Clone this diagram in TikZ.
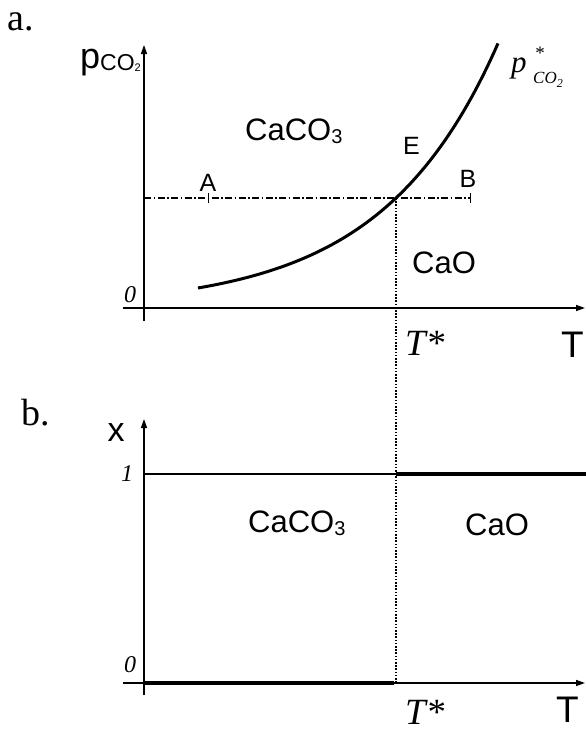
\documentclass[tikz,border=0pt]{standalone}
\usepackage{fontspec}
\setmainfont{Liberation Serif}
\newfontfamily\arialf{Liberation Sans}
\newfontfamily\tnrf{Liberation Serif}
\usetikzlibrary{arrows.meta}
\newcommand{\fs}[1]{\fontsize{#1}{#1}\selectfont}
\begin{document}
\begin{tikzpicture}[x=1pt,y=-1pt,
  axis/.style={line width=1.4pt,-{Triangle[length=9pt,width=6pt]}},
  curve/.style={line width=3pt},
  thickline/.style={line width=3.4pt},
  thinline/.style={line width=1.4pt},
  dashdot/.style={line width=1.3pt,dash pattern=on 7pt off 2.5pt on 1.5pt off 2.5pt},
  dotline/.style={line width=1.6pt,dash pattern=on 1.6pt off 1.6pt},
  big/.style={font=\arialf\fs{31},inner sep=0pt},
  mid/.style={font=\arialf\fs{25},inner sep=0pt},
  axlbl/.style={font=\arialf\fs{37},inner sep=0pt},
  serlbl/.style={font=\tnrf\itshape\fs{37},inner sep=0pt},
  zlbl/.style={font=\tnrf\itshape\fs{24},inner sep=0pt},
  partlbl/.style={font=\tnrf\fs{38},inner sep=0pt}]
\useasboundingbox (0,0) rectangle (586,731);

% ---------- panel a ----------
\node[partlbl,anchor=base west] (pa) at (7,30) {a.};
\coordinate (ayb) at (144,321);
\coordinate (ayt) at (144,45);
\coordinate (axl) at (123,308);
\coordinate (axr) at (585,308);
\draw[axis] (ayb) -- (ayt);
\draw[axis] (axl) -- (axr);

\node[inner sep=0pt,anchor=base west,font=\arialf] (plbl) at (80,68)
  {{\fs{36}p}\raisebox{-2pt}{\fs{23}CO}\raisebox{-3pt}{\fs{11}2}};

% equilibrium curve
\draw[curve] plot[domain=198:498,samples=80] (\x,{308-110*exp(0.0086*(\x-396))});
\node[inner sep=0pt,anchor=base west,font=\tnrf\itshape\fs{31}] (pstar) at (511,72) {p};
\node[inner sep=0pt,font=\tnrf\fs{19}] (star) at (540,53) {*};
\node[inner sep=0pt,anchor=base west,font=\tnrf\itshape\fs{17}] (pco) at (533,83)
  {CO\raisebox{-4pt}{\fs{12}2}};

% A-B isobar
\coordinate (l0) at (144,198);
\coordinate (E) at (396,198);
\coordinate (tA) at (208,198);
\coordinate (tB) at (470,198);
\draw[dashdot] (l0) -- (tB);
\draw[line width=1pt] ([yshift=-5pt]tA) -- ([yshift=5pt]tA);
\draw[line width=1pt] ([yshift=-5pt]tB) -- ([yshift=5pt]tB);
\node[mid,anchor=base] (A) at (208,191) {A};
\node[mid,anchor=base] (B) at (468,187) {B};
\node[mid,anchor=base west] (Elbl) at (403,154) {E};

\node[big,anchor=base west] (caco3a) at (245,140) {CaCO\raisebox{-3pt}{\fs{20}3}};
\node[big,anchor=base west] (caoa) at (412,273) {CaO};

\node[zlbl,anchor=base] (z0a) at (130,302) {0};
\node[serlbl,anchor=base west] (tsa) at (405,355) {T*};
\node[axlbl,anchor=base west] (Ta) at (561,357) {T};

% ---------- panel b ----------
\node[partlbl,anchor=base west] (pb) at (21,425) {b.};
\coordinate (byb) at (144,695);
\coordinate (byt) at (144,419);
\coordinate (bxl) at (123,683);
\coordinate (bxr) at (585,683);
\draw[axis] (byb) -- (byt);
\draw[axis] (bxl) -- (bxr);
\node[inner sep=0pt,anchor=base,font=\arialf\fs{34}] (xlbl) at (116,441) {x};

\coordinate (one0) at (144,474);
\coordinate (oneE) at (396,474);
\coordinate (oneR) at (586,474);
\draw[thinline] (one0) -- (oneE);
\draw[thickline] (oneE) -- (oneR);
\coordinate (zero0) at (144,683);
\coordinate (zeroE) at (394,683);
\draw[thickline] (zero0) -- (zeroE);

\coordinate (Tb) at (396,683);
\draw[dotline] (E) -- (Tb);

\node[zlbl,anchor=base] (one) at (127,481) {1};
\node[zlbl,anchor=base] (z0b) at (130,672) {0};
\node[big,anchor=base west] (caco3b) at (248,532) {CaCO\raisebox{-3pt}{\fs{20}3}};
\node[big,anchor=base west] (caob) at (465,535) {CaO};
\node[serlbl,anchor=base west] (tsb) at (405,724) {T*};
\node[axlbl,anchor=base west] (Tblbl) at (556,722) {T};
\end{tikzpicture}
\end{document}
